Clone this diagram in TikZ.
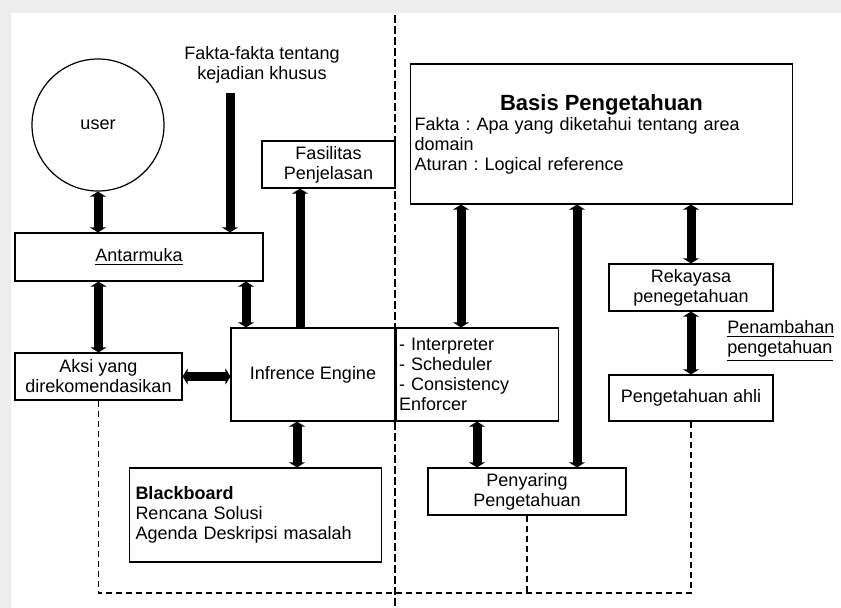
\documentclass[tikz,border=0pt]{standalone}
\usepackage{fontspec}
\setmainfont{Liberation Sans}
\frenchspacing
\usetikzlibrary{
  arrows.meta,
  positioning
}

\begin{document}
\begin{tikzpicture}[x=0.5pt, y=-0.5pt,
  every node/.style = {font=\fontsize{9}{10}\selectfont},
  box/.style = {draw, line width=0.6pt, fill=white, align=center,
    inner sep=1.5pt, minimum height=23.5pt},
  link/.style = {line width=4.5pt,
    {Triangle[width=8pt,length=2.5pt]}-{Triangle[width=8pt,length=2.5pt]}},
  onelink/.style = {line width=4.5pt, -{Triangle[width=8pt,length=2.5pt]}},
  feedback/.style = {line width=0.6pt, dash pattern=on 3pt off 2pt},
  divider/.style = {line width=0.6pt, dash pattern=on 4pt off 1.5pt}]
  \fill[black!7] (0,0) rectangle (841,608);
  \fill[white] (11,13) rectangle (841,608);
  \useasboundingbox (0,0) rectangle (841,608);
  \coordinate (top) at (395,15);
  \coordinate (bot) at (395,606);
  \coordinate (bus) at (0,593);
  \coordinate (src) at (230,93);
  \draw[divider] (top) -- (bot);
  \node[draw, circle, line width=0.6pt, minimum size=66pt] (user) at (98,125) {user};
  \node[align=center] (fakta) at (262,65) {Fakta-fakta tentang\\kejadian khusus};
  \node[box, minimum width=124pt, minimum height=24pt] (antar) at (139,257) {\underline{Antarmuka}};
  \node[box, minimum width=66.5pt] (fasil) at (328.5,164.5) {Fasilitas\\Penjelasan};
  \node[box, minimum width=83.5pt] (aksi) at (98.5,376.5) {Aksi yang\\direkomendasikan};
  \node[box, minimum width=82pt, minimum height=46.5pt] (infer) at (313,374.5) {Infrence Engine};
  \node[box, align=left, text width=78pt, minimum height=46.5pt, inner xsep=1.5pt,
    anchor=west] (tools) at (infer.east) {- Interpreter\\- Scheduler\\- Consistency\\Enforcer};
  \node[box, align=left, text width=120pt, minimum height=47pt, inner xsep=3pt]
    (black) at (255.5,515) {\textbf{Blackboard}\\Rencana Solusi\\Agenda Deskripsi masalah};
  \node[box, align=left, text width=187pt, minimum height=70pt, inner xsep=2pt]
    (basis) at (601.5,134) {\makebox[187pt]{\fontsize{11}{13}\selectfont\bfseries Basis Pengetahuan}\\
    Fakta : Apa yang diketahui tentang area\\domain\\Aturan : Logical reference};
  \node[box, minimum width=82pt] (rekay) at (691,287.5) {Rekayasa\\penegetahuan};
  \node[box, minimum width=82pt, minimum height=23pt] (ahli) at (691,398) {Pengetahuan ahli};
  \node[align=left, anchor=west, inner sep=0pt] (tambah) at (727,341)
    {\underline{Penambahan}\\\underline{pengetahuan}};
  \node[box, minimum width=99pt] (saring) at (527,491.5) {Penyaring\\Pengetahuan};

  \draw[link] (user.south) -- (user.south |- antar.north);
  \draw[onelink] (src) -- (src |- antar.north);
  \draw[link] (aksi.north |- antar.south) -- (aksi.north);
  \draw[link] (antar.south -| 246,0) -- (infer.north -| 246,0);
  \draw[onelink] (infer.north -| 300,0) -- (fasil.south -| 300,0);
  \draw[link] (aksi.east) -- (aksi.east -| infer.west);
  \draw[link] (infer.south -| 297,0) -- (black.north -| 297,0);
  \draw[link] (basis.south -| 461,0) -- (tools.north -| 461,0);
  \draw[link] (basis.south -| 577,0) -- (saring.north -| 577,0);
  \draw[link] (basis.south -| rekay.north) -- (rekay.north);
  \draw[link] (rekay.south) -- (ahli.north);
  \draw[link] (tools.south -| 477,0) -- (saring.north -| 477,0);
  \draw[feedback] (aksi.south) -- (aksi.south |- bus) -| (ahli.south);
  \draw[feedback] (saring.south) -- (saring.south |- bus);
\end{tikzpicture}
\end{document}
